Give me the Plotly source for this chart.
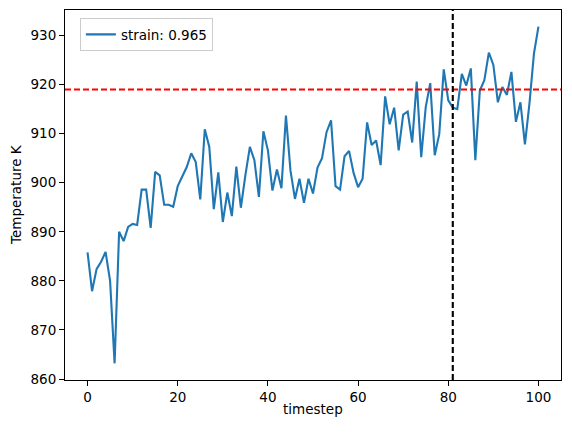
import plotly.graph_objects as go

timestep = list(range(101))
temperature = [
    885.8, 877.9, 882.4, 883.9, 885.9, 880.0, 863.2, 890.0, 888.1, 891.0,
    891.6, 891.4, 898.6, 898.6, 890.8, 902.2, 901.5, 895.5, 895.5, 895.1,
    899.3, 901.1, 903.2, 906.0, 904.2, 896.6, 910.9, 907.3, 894.6, 902.1,
    892.0, 898.0, 893.2, 903.3, 894.9, 901.5, 907.3, 904.6, 897.1, 910.5,
    906.6, 898.4, 902.7, 898.9, 913.7, 902.5, 896.7, 900.8, 895.9, 900.8,
    897.8, 903.1, 905.0, 910.3, 912.7, 899.3, 898.6, 905.4, 906.5, 902.0,
    899.1, 900.8, 912.3, 907.7, 908.6, 903.6, 917.6, 911.9, 915.3, 906.6,
    913.9, 914.5, 908.2, 920.6, 905.2, 915.4, 920.3, 905.6, 909.9, 923.1,
    916.8, 915.3, 915.0, 922.2, 919.8, 923.3, 904.6, 918.8, 920.9, 926.5,
    924.0, 916.4, 919.5, 917.9, 922.6, 912.4, 916.4, 907.8, 916.1, 926.3,
    931.8,
]
series_name = "strain: 0.965"
threshold_temp = 919.0
marker_step = 81
x_ticks = [0, 20, 40, 60, 80, 100]
y_ticks = [860, 870, 880, 890, 900, 910, 920, 930]
x_title = "timestep"
y_title = "Temperature K"

fig = go.Figure()
fig.add_trace(go.Scatter(
    x=timestep, y=temperature, mode="lines", name=series_name,
    line=dict(color="#1f77b4", width=2.1),
))
fig.add_hline(y=threshold_temp, line=dict(color="red", width=2.1, dash="6px,3px"))
fig.add_vline(x=marker_step, line=dict(color="black", width=2.1, dash="6px,3px"))

font = dict(family="DejaVu Sans", size=13.5, color="black")
axis_common = dict(
    showgrid=False, zeroline=False, showline=True, linecolor="black", linewidth=1.1,
    mirror=True, ticks="outside", ticklen=5, tickwidth=1.1, tickcolor="black",
    tickfont=font, automargin=False,
)
fig.add_annotation(text=x_title, xref="paper", yref="paper", x=0.5, y=0,
                   xanchor="center", yanchor="top", yshift=-19, showarrow=False, font=font)
fig.add_annotation(text=y_title, xref="paper", yref="paper", x=0, y=0.5,
                   xanchor="center", yanchor="middle", xshift=-49, textangle=-90,
                   showarrow=False, font=font)
fig.update_layout(
    width=564, height=425,
    margin=dict(l=57, r=11, t=2, b=53),
    paper_bgcolor="white", plot_bgcolor="white",
    font=font,
    showlegend=True,
    legend=dict(
        x=0.03, y=0.978, xanchor="left", yanchor="top",
        bgcolor="white", bordercolor="#cccccc", borderwidth=1,
        font=font,
    ),
    xaxis=dict(range=[-5, 105], tickvals=x_ticks, **axis_common),
    yaxis=dict(range=[859.8, 935.2], tickvals=y_ticks, **axis_common),
)
fig.write_html("out.html")
